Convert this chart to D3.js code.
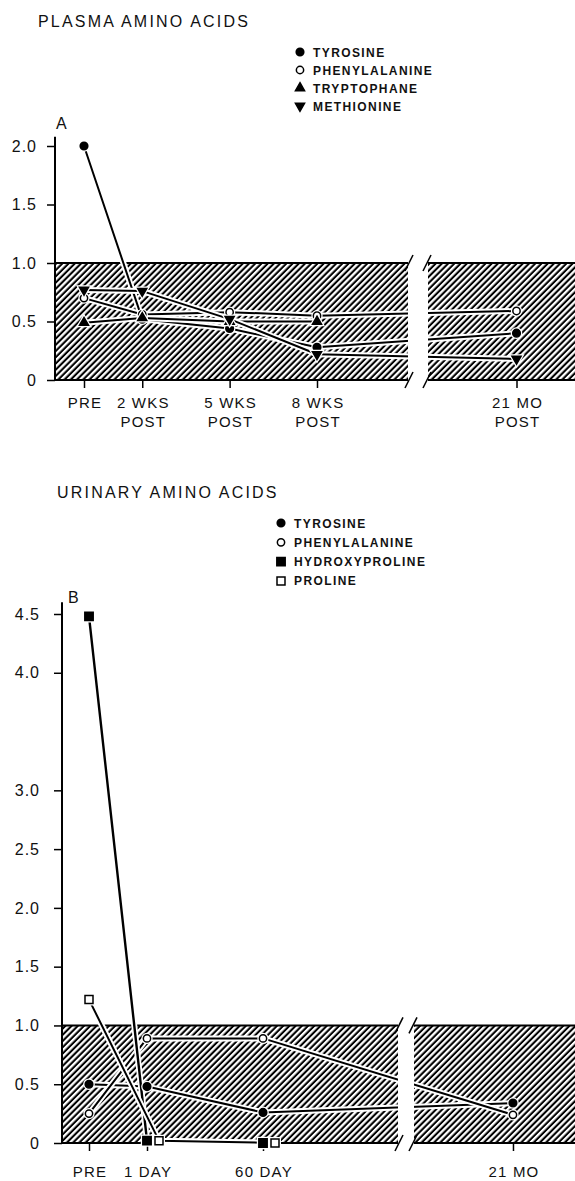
<!DOCTYPE html>
<html>
<head>
<meta charset="utf-8">
<script src="https://cdn.jsdelivr.net/npm/d3@7"></script>
<style>
  html, body { margin: 0; padding: 0; background: #fff; }
  svg { display: block; }
  text { font-family: "Liberation Sans", "DejaVu Sans", sans-serif; fill: #111; }
</style>
</head>
<body>
<svg id="chart" width="575" height="1181"></svg>
<script>
// ---------- DATA ----------
// Panel A: plasma amino acids
const catsA = [["PRE"], ["2 WKS", "POST"], ["5 WKS", "POST"], ["8 WKS", "POST"], ["21 MO", "POST"]];
const posA = [0, 2, 5, 8, 14.85];           // category positions on the (broken) time axis
const tyrosineA = [2.0, 0.52, 0.44, 0.28, 0.40];
const phenylalanineA = [0.70, 0.56, 0.58, 0.55, 0.59];
const tryptophaneA = [0.49, 0.53, 0.50, 0.50, null];
const methionineA = [0.77, 0.76, 0.52, 0.22, 0.18];
const yTicksA = [0, 0.5, 1.0, 1.5, 2.0];
const yTickLabelsA = ["0", "0.5", "1.0", "1.5", "2.0"];

// Panel B: urinary amino acids
const catsB = [["PRE"], ["1 DAY"], ["60 DAY"], ["21 MO"]];
const posB = [0, 1, 3, 7.31];
const tyrosineB = [0.50, 0.48, 0.26, 0.34];
const phenylalanineB = [0.25, 0.89, 0.89, 0.24];
const hydroxyprolineB = [4.48, 0.02, 0.0, null];
const prolineB = [1.22, 0.02, 0.0, null];
const yTicksB = [0, 0.5, 1.0, 1.5, 2.0, 2.5, 3.0, 4.0, 4.5];
const yTickLabelsB = ["0", "0.5", "1.0", "1.5", "2.0", "2.5", "3.0", "4.0", "4.5"];

const normalBand = [0, 1.0];

// ---------- DRAWING ----------
const svg = d3.select("#chart");
const defs = svg.append("defs");
const pat = defs.append("pattern")
  .attr("id", "hatch").attr("patternUnits", "userSpaceOnUse")
  .attr("width", 4.4).attr("height", 10)
  .attr("patternTransform", "rotate(45)");
pat.append("rect").attr("width", 4.4).attr("height", 10).attr("fill", "#fff");
pat.append("line").attr("x1", 1.6).attr("x2", 1.6).attr("y1", 0).attr("y2", 10)
  .attr("stroke", "#000").attr("stroke-width", 2.1);

const symbolTypes = {
  circleFilled: { shape: d3.symbolCircle, size: 46, fill: "#000" },
  circleOpen: { shape: d3.symbolCircle, size: 42, fill: "#fff" },
  triUp: { shape: d3.symbolTriangle, size: 36, fill: "#000" },
  triDown: { shape: d3.symbolTriangle, size: 36, fill: "#000", rot: 180 },
  squareFilled: { shape: d3.symbolSquare, size: 70, fill: "#000" },
  squareOpen: { shape: d3.symbolSquare, size: 64, fill: "#fff" }
};

function drawMarker(g, type, x, y, halo) {
  const s = symbolTypes[type];
  const p = d3.symbol().type(s.shape).size(s.size)();
  const tr = `translate(${x},${y})` + (s.rot ? ` rotate(${s.rot})` : "");
  if (halo) {
    g.append("path").attr("d", p).attr("transform", tr)
      .attr("fill", "#fff").attr("stroke", "#fff").attr("stroke-width", 4);
  }
  g.append("path").attr("d", p).attr("transform", tr)
    .attr("fill", s.fill).attr("stroke", "#000").attr("stroke-width", 1.5);
}

function panel(cfg) {
  const g = svg.append("g");
  const x = d3.scaleLinear().domain(cfg.xDomain).range(cfg.xRange);
  const y = d3.scaleLinear().domain(cfg.yDomain).range(cfg.yRange);
  const y0 = y(normalBand[0]), y1 = y(normalBand[1]);

  // title
  g.append("text").attr("x", cfg.titleX).attr("y", cfg.titleY)
    .attr("font-size", 16).attr("letter-spacing", 2.2).text(cfg.title);

  // legend
  cfg.series.forEach((s, i) => {
    const cy = cfg.legendY + i * cfg.legendStep;
    drawMarker(g, s.marker, cfg.legendX, cy, false);
    g.append("text").attr("x", cfg.legendX + 13).attr("y", cy + 4.5)
      .attr("font-size", 12).attr("font-weight", "bold").attr("letter-spacing", 1.4)
      .text(s.name);
  });

  // panel letter
  g.append("text").attr("x", cfg.letterX).attr("y", cfg.letterY)
    .attr("font-size", 16).text(cfg.letter);

  // hatched normal band (two pieces around the axis break)
  const segs = [[cfg.axisX, cfg.breakX[0]], [cfg.breakX[1], 575]];
  segs.forEach(([a, b]) => {
    g.append("rect").attr("x", a).attr("y", y1).attr("width", b - a).attr("height", y0 - y1)
      .attr("fill", "url(#hatch)");
    g.append("line").attr("x1", a).attr("x2", b).attr("y1", y1).attr("y2", y1)
      .attr("stroke", "#000").attr("stroke-width", 2);
    g.append("line").attr("x1", a).attr("x2", b).attr("y1", y0).attr("y2", y0)
      .attr("stroke", "#000").attr("stroke-width", 2);
  });

  // y axis
  const yAxis = d3.axisLeft(y).tickValues(cfg.yTicks)
    .tickFormat((d, i) => cfg.yTickLabels[i]).tickSizeOuter(0).tickSize(8).tickPadding(cfg.tickPad);
  const ya = g.append("g").attr("transform", `translate(${cfg.axisX},0)`).call(yAxis);
  ya.select(".domain").remove();
  ya.selectAll(".tick line").attr("stroke", "#000").attr("stroke-width", 1.5);
  ya.selectAll(".tick text").attr("font-size", 16).attr("letter-spacing", 1).attr("fill", "#111")
    .attr("font-family", "Liberation Sans, DejaVu Sans, sans-serif");
  g.append("line").attr("x1", cfg.axisX).attr("x2", cfg.axisX)
    .attr("y1", y(cfg.axisTop)).attr("y2", y0 + 1)
    .attr("stroke", "#000").attr("stroke-width", 2);

  // x axis ticks + labels
  const xAxis = d3.axisBottom(x).tickValues(cfg.pos).tickFormat("").tickSize(8).tickSizeOuter(0);
  const xa = g.append("g").attr("transform", `translate(0,${y0})`).call(xAxis);
  xa.select(".domain").remove();
  xa.selectAll(".tick line").attr("stroke", "#000").attr("stroke-width", 1.5);
  cfg.cats.forEach((lines, i) => {
    const t = g.append("text").attr("text-anchor", "middle").attr("font-size", 15)
      .attr("letter-spacing", 1.2);
    lines.forEach((ln, j) => {
      t.append("tspan").attr("x", x(cfg.pos[i]) + 1).attr("y", cfg.labelY + j * 19).text(ln);
    });
  });

  // series lines with white halos
  const ref = cfg.overlapRef ? cfg.series.find(s => s.name === cfg.overlapRef.of) : null;
  function px(s, i) {
    let xx = x(cfg.pos[i]);
    if (cfg.overlapRef && s.name === cfg.overlapRef.shift && ref &&
        ref.values[i] != null && Math.abs(ref.values[i] - s.values[i]) < 0.05) {
      xx += cfg.overlapRef.dx;
    }
    return xx;
  }
  cfg.series.forEach(s => {
    const pts = s.values.map((v, i) => ({ v, i })).filter(d => d.v != null);
    const line = d3.line().x(d => px(s, d.i)).y(d => y(d.v));
    g.append("path").attr("d", line(pts)).attr("fill", "none")
      .attr("stroke", "#fff").attr("stroke-width", 6).attr("stroke-linejoin", "round");
    g.append("path").attr("d", line(pts)).attr("fill", "none")
      .attr("stroke", "#000").attr("stroke-width", s.width || 2).attr("stroke-linejoin", "round");
  });

  // break gap
  g.append("rect").attr("x", cfg.breakX[0]).attr("y", y1 - 12)
    .attr("width", cfg.breakX[1] - cfg.breakX[0]).attr("height", y0 - y1 + 24).attr("fill", "#fff");
  [y1, y0].forEach(yy => {
    [cfg.breakX[0] + 1, cfg.breakX[1] - 1].forEach(bx => {
      g.append("line").attr("x1", bx - 4).attr("x2", bx + 4)
        .attr("y1", yy + 8).attr("y2", yy - 8)
        .attr("stroke", "#000").attr("stroke-width", 1.6);
    });
  });

  // markers
  cfg.series.forEach(s => {
    s.values.forEach((v, i) => {
      if (v == null) return;
      drawMarker(g, s.marker, px(s, i), y(v), true);
    });
  });
}

panel({
  title: "PLASMA AMINO ACIDS", titleX: 38, titleY: 27,
  legendX: 300, legendY: 52, legendStep: 18,
  letter: "A", letterX: 56, letterY: 129,
  axisX: 55, axisTop: 2.08, tickPad: 10,
  xDomain: [0, 8], xRange: [84, 317],
  yDomain: [0, 2], yRange: [380, 146],
  breakX: [408, 428],
  cats: catsA, pos: posA, labelY: 408,
  yTicks: yTicksA, yTickLabels: yTickLabelsA,
  series: [
    { name: "TYROSINE", values: tyrosineA, marker: "circleFilled" },
    { name: "PHENYLALANINE", values: phenylalanineA, marker: "circleOpen" },
    { name: "TRYPTOPHANE", values: tryptophaneA, marker: "triUp" },
    { name: "METHIONINE", values: methionineA, marker: "triDown" }
  ]
});

panel({
  title: "URINARY AMINO ACIDS", titleX: 57, titleY: 498,
  legendX: 281, legendY: 523, legendStep: 19.3,
  letter: "B", letterX: 68, letterY: 603,
  axisX: 62, axisTop: 4.6, tickPad: 14,
  xDomain: [0, 3], xRange: [89, 263],
  yDomain: [0, 4.5], yRange: [1143, 614],
  breakX: [398, 414],
  cats: catsB, pos: posB, labelY: 1177,
  yTicks: yTicksB, yTickLabels: yTickLabelsB,
  overlapRef: { shift: "PROLINE", of: "HYDROXYPROLINE", dx: 12 },
  series: [
    { name: "TYROSINE", values: tyrosineB, marker: "circleFilled" },
    { name: "PHENYLALANINE", values: phenylalanineB, marker: "circleOpen" },
    { name: "HYDROXYPROLINE", values: hydroxyprolineB, marker: "squareFilled", width: 2.4 },
    { name: "PROLINE", values: prolineB, marker: "squareOpen" }
  ]
});
</script>
</body>
</html>
